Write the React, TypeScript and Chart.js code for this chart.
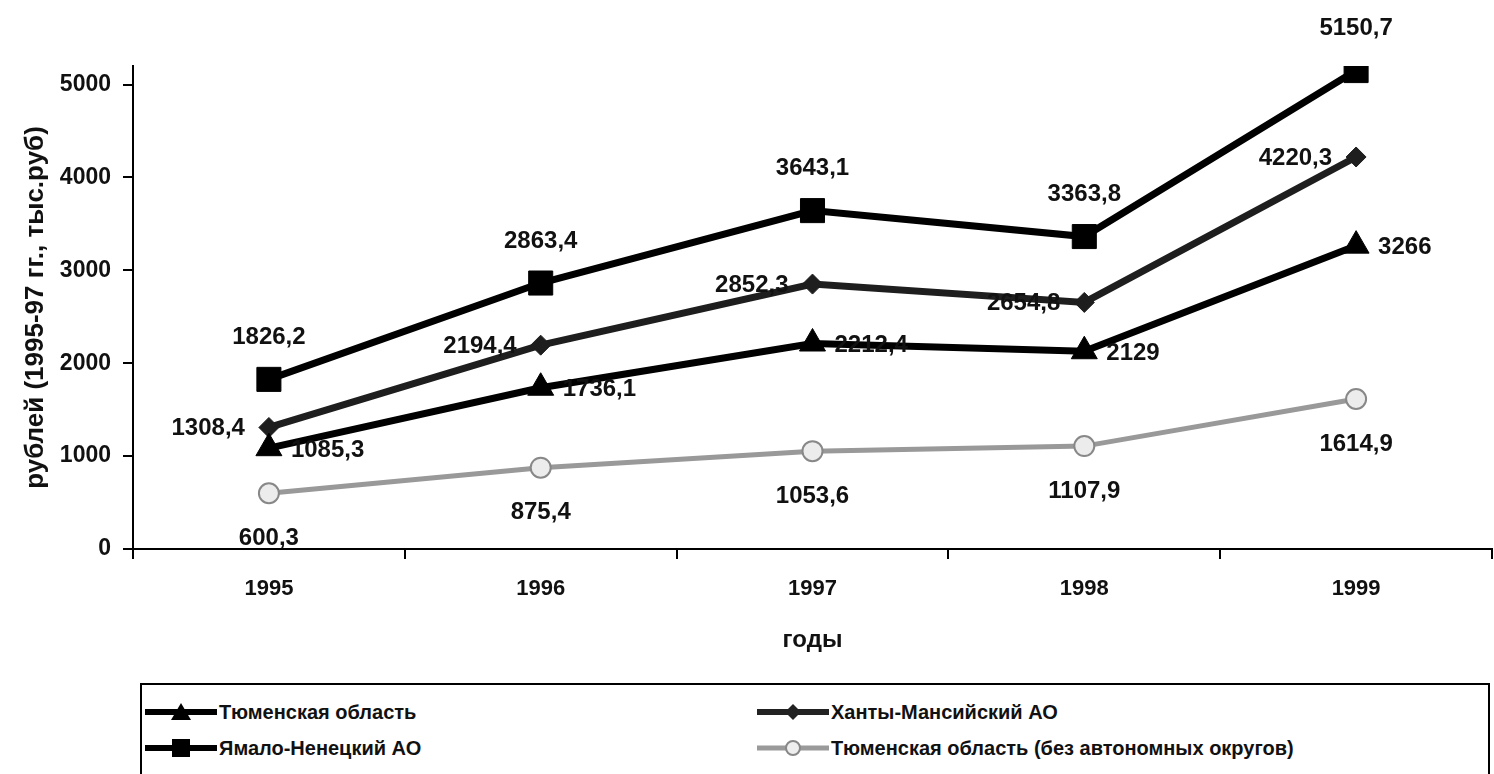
import React, { useEffect, useRef } from 'react';
import { Chart, registerables } from 'chart.js';

Chart.register(...registerables);

const years = ['1995', '1996', '1997', '1998', '1999'];
const tyumen = [1085.3, 1736.1, 2212.4, 2129, 3266];
const khanty = [1308.4, 2194.4, 2852.3, 2654.8, 4220.3];
const yamal = [1826.2, 2863.4, 3643.1, 3363.8, 5150.7];
const tyumenNoAO = [600.3, 875.4, 1053.6, 1107.9, 1614.9];
const seriesNames = [
  'Тюменская область',
  'Ханты-Мансийский АО',
  'Ямало-Ненецкий АО',
  'Тюменская область (без автономных округов)',
];
const yTickValues = [0, 1000, 2000, 3000, 4000, 5000];
const xTitle = 'годы';
const yTitle = 'рублей (1995-97 гг., тыс.руб)';

const FONT = '"Liberation Sans", Arial, sans-serif';

const labelPos = [
  { dx: 22, dy: 2, align: 'left' },
  { dx: -24, dy: 1, align: 'right' },
  { dx: 0, dy: -42, align: 'center' },
  { dx: 0, dy: 45, align: 'center' },
];

const dataLabelPlugin = {
  id: 'dataLabels',
  afterDatasetsDraw(chart: any) {
    const ctx = chart.ctx;
    ctx.save();
    ctx.font = `bold 24px ${FONT}`;
    ctx.fillStyle = '#111';
    ctx.textBaseline = 'middle';
    chart.data.datasets.forEach((ds: any, i: number) => {
      const meta = chart.getDatasetMeta(i);
      const p = labelPos[i];
      ctx.textAlign = p.align;
      meta.data.forEach((pt: any, j: number) => {
        const txt = String(ds.data[j]).replace('.', ',');
        ctx.fillText(txt, pt.x + p.dx, pt.y + p.dy);
      });
    });
    ctx.restore();
  },
};

function Sample({ kind }: { kind: number }) {
  const stroke = kind === 3 ? '#9a9a9a' : kind === 1 ? '#222' : '#000';
  let marker: any = null;
  if (kind === 0) marker = <polygon points="36,1 46,18 26,18" fill="#000" />;
  if (kind === 1) marker = <polygon points="36,2 44,10 36,18 28,10" fill="#222" />;
  if (kind === 2) marker = <rect x="27" y="1" width="18" height="18" fill="#000" />;
  if (kind === 3) marker = <circle cx="36" cy="10" r="7" fill="#eee" stroke="#888" strokeWidth="2" />;
  return (
    <svg width="72" height="20" style={{ display: 'block', flex: '0 0 72px' }}>
      <line x1="0" y1="10" x2="72" y2="10" stroke={stroke} strokeWidth={kind === 3 ? 5 : 6} />
      {marker}
    </svg>
  );
}

export default function App() {
  const ref = useRef<HTMLCanvasElement>(null);
  useEffect(() => {
    const canvas = ref.current!;
    const chart = new Chart(canvas, {
      type: 'line',
      data: {
        labels: years,
        datasets: [
          {
            label: seriesNames[0], data: tyumen, borderColor: '#000', backgroundColor: '#000',
            borderWidth: 7, pointStyle: 'triangle', pointRadius: 15, pointBackgroundColor: '#000', pointBorderColor: '#000', pointBorderWidth: 1,
          },
          {
            label: seriesNames[1], data: khanty, borderColor: '#1e1e1e', backgroundColor: '#1e1e1e',
            borderWidth: 7, pointStyle: 'rectRot', pointRadius: 10, pointBackgroundColor: '#1e1e1e', pointBorderColor: '#1e1e1e', pointBorderWidth: 1,
          },
          {
            label: seriesNames[2], data: yamal, borderColor: '#000', backgroundColor: '#000',
            borderWidth: 7, pointStyle: 'rect', pointRadius: 17, pointBackgroundColor: '#000', pointBorderColor: '#000', pointBorderWidth: 1,
          },
          {
            label: seriesNames[3], data: tyumenNoAO, borderColor: '#999', backgroundColor: '#eee',
            borderWidth: 5, pointStyle: 'circle', pointRadius: 10, pointBackgroundColor: '#ececec', pointBorderColor: '#888', pointBorderWidth: 2,
          },
        ],
      },
      options: {
        animation: false,
        responsive: false,
        layout: { padding: { top: 66, right: 0, bottom: 21, left: 0 } },
        plugins: { legend: { display: false }, tooltip: { enabled: false } },
        elements: { line: { tension: 0 } },
        scales: {
          x: {
            offset: true,
            grid: { offset: true, drawOnChartArea: false, drawTicks: true, tickLength: 10, color: '#000', lineWidth: 2 },
            border: { display: true, color: '#000', width: 2 },
            ticks: { color: '#111', font: { family: FONT, weight: 'bold', size: 22 }, padding: 17, maxRotation: 0 },
            title: { display: true, text: xTitle, color: '#111', font: { family: FONT, weight: 'bold', size: 24 }, padding: { top: 0, bottom: 4 } },
            afterFit: (s: any) => { s.height = 110; },
          },
          y: {
            min: 0,
            max: 5200,
            grid: { drawOnChartArea: false, drawTicks: true, tickLength: 10, color: '#000', lineWidth: 2 },
            border: { display: true, color: '#000', width: 2 },
            ticks: {
              stepSize: 1000, color: '#111', font: { family: FONT, weight: 'bold', size: 23 }, padding: 12,
              callback: (v: any) => String(v),
            },
            afterBuildTicks: (s: any) => { s.ticks = yTickValues.map((v) => ({ value: v })); },
            title: { display: true, text: yTitle, color: '#111', font: { family: FONT, weight: 'bold', size: 26 }, padding: { top: 20, bottom: 0 } },
            afterFit: (s: any) => { s.width = 133; },
          },
        },
      } as any,
      plugins: [dataLabelPlugin],
    });
    return () => chart.destroy();
  }, []);

  const legendItem = (i: number, left: number, top: number) => (
    <div style={{ position: 'absolute', left, top, display: 'flex', alignItems: 'center', height: 24 }}>
      <Sample kind={i} />
      <span style={{ fontFamily: FONT, fontWeight: 'bold', fontSize: 20, color: '#111', marginLeft: 2, whiteSpace: 'nowrap' }}>
        {seriesNames[i]}
      </span>
    </div>
  );

  return (
    <div style={{ position: 'absolute', left: 0, top: 0, width: 1494, height: 774, overflow: 'hidden', background: '#fff' }}>
      <canvas ref={ref} width={1510} height={680} style={{ position: 'absolute', left: 0, top: 0, width: 1510, height: 680 }} />
      <div style={{ position: 'absolute', left: 140, top: 683, width: 1350, height: 100, border: '2px solid #000', boxSizing: 'border-box' }} />
      {legendItem(0, 145, 700)}
      {legendItem(1, 757, 700)}
      {legendItem(2, 145, 736)}
      {legendItem(3, 757, 736)}
    </div>
  );
}
